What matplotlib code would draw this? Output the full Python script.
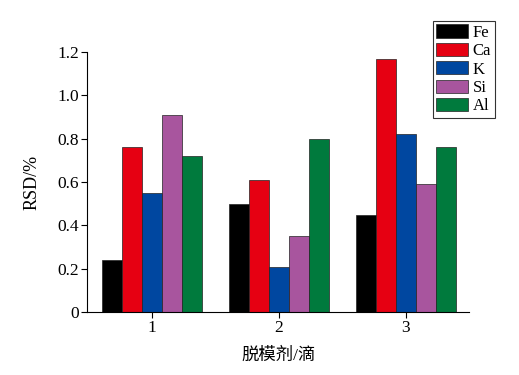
import matplotlib.pyplot as plt
import numpy as np

plt.rcParams['font.family'] = ['Liberation Serif', 'Noto Sans CJK SC']

groups = ['1', '2', '3']
elements = ['Fe', 'Ca', 'K', 'Si', 'Al']
fe = [0.24, 0.50, 0.45]
ca = [0.76, 0.61, 1.17]
k = [0.55, 0.21, 0.82]
si = [0.91, 0.35, 0.59]
al = [0.72, 0.80, 0.76]
colors = ['#000000', '#e60012', '#0047a0', '#a8559e', '#007a3d']

fig = plt.figure(figsize=(5.19, 3.75), dpi=100)
ax = fig.add_axes([0.168, 0.168, 0.736, 0.693])

x = np.arange(1, 4)
w = 0.158
for i, (vals, c, name) in enumerate(zip([fe, ca, k, si, al], colors, elements)):
    ax.bar(x + (i - 2) * w, vals, w, color=c, edgecolor='#222222', linewidth=0.5, label=name)

ax.set_xlim(0.49, 3.5)
ax.set_ylim(0, 1.2)
ax.set_xticks(x)
ax.set_xticklabels(groups)
ax.set_yticks([0, 0.2, 0.4, 0.6, 0.8, 1.0, 1.2])
ax.set_yticklabels(['0', '0.2', '0.4', '0.6', '0.8', '1.0', '1.2'])
ax.spines['top'].set_visible(False)
ax.spines['right'].set_visible(False)
ax.tick_params(labelsize=12.5, length=4, width=0.8, pad=2)
ax.set_ylabel('RSD/%', fontsize=13, labelpad=12)
ax.set_xlabel('脱模剂/滴', fontsize=12.5, labelpad=8)

leg = fig.legend(loc='upper left', bbox_to_anchor=(0.834, 0.944), fontsize=12,
                 frameon=True, fancybox=False, edgecolor='black',
                 handlelength=1.9, handleheight=0.85, labelspacing=0.12,
                 handletextpad=0.3, borderpad=0.2, borderaxespad=0)
leg.get_frame().set_linewidth(0.8)

fig.savefig('out.png', dpi=100)
